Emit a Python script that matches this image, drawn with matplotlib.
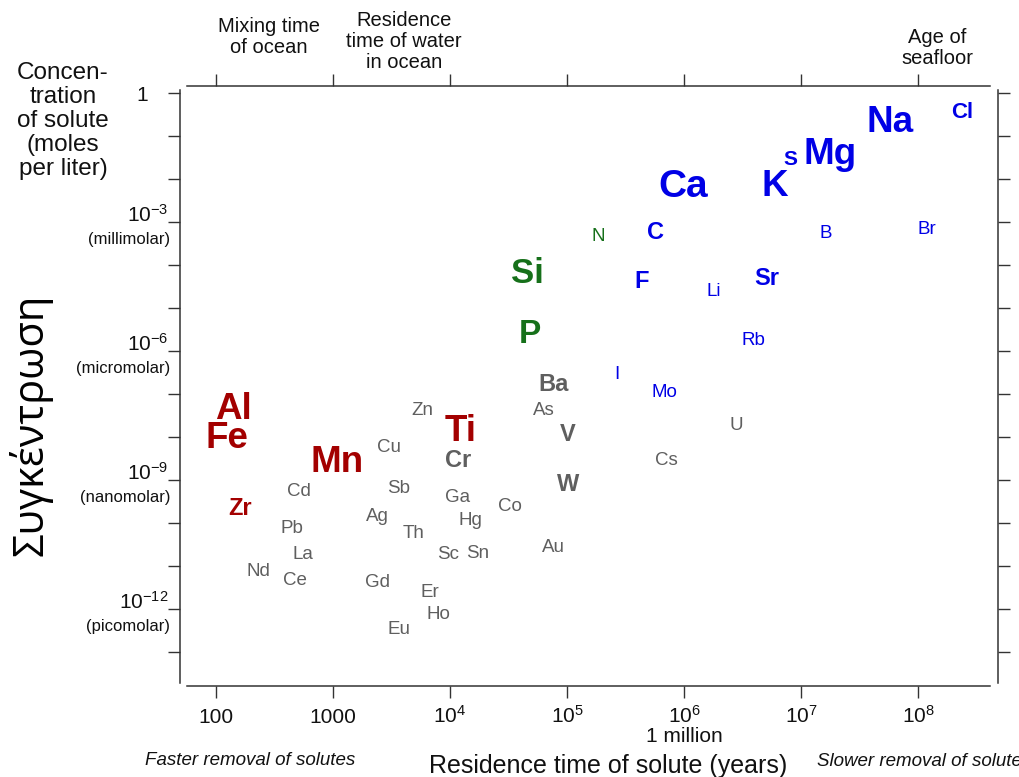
import numpy as np
import matplotlib.pyplot as plt
from matplotlib.ticker import FixedLocator, NullLocator

plt.rcParams['font.family'] = ['Liberation Sans', 'DejaVu Sans']
plt.rcParams['mathtext.fontset'] = 'custom'
plt.rcParams['mathtext.rm'] = 'Liberation Sans'
plt.rcParams['mathtext.it'] = 'Liberation Sans:italic'
plt.rcParams['mathtext.bf'] = 'Liberation Sans:bold'

# elements: residence time (years) and concentration (mol/L)
red_el = ['Al', 'Fe', 'Mn', 'Ti', 'Zr']
red_time = [1.4e2, 1.24e2, 1.08e3, 1.22e4, 1.6e2]
red_conc = [5.5e-8, 1.17e-8, 3.2e-9, 1.7e-8, 2.5e-10]

gray_el = ['Ba', 'As', 'V', 'Cr', 'W', 'Zn', 'Cu', 'Cd', 'Sb', 'Ga', 'Co', 'Hg',
           'Ag', 'Th', 'Pb', 'La', 'Sc', 'Sn', 'Au', 'Nd', 'Ce', 'Gd', 'Er', 'Ho',
           'Eu', 'Cs', 'U']
gray_time = [7.7e4, 6.35e4, 1.02e5, 1.17e4, 1.02e5, 5.77e3, 3.0e3, 5.1e2, 3.66e3,
             1.15e4, 3.26e4, 1.48e4, 2.38e3, 4.9e3, 4.47e2, 5.5e2, 9.6e3, 1.73e4,
             7.7e4, 2.3e2, 4.7e2, 2.38e3, 6.7e3, 7.9e3, 3.66e3, 7.0e5, 2.8e6]
gray_conc = [1.9e-7, 4.7e-8, 1.3e-8, 3.2e-9, 8.9e-10, 4.5e-8, 6.5e-9, 5.9e-10,
             6.9e-10, 4.3e-10, 2.75e-10, 1.3e-10, 1.55e-10, 6.2e-11, 8.1e-11,
             2.1e-11, 2.1e-11, 2.2e-11, 2.95e-11, 8.5e-12, 5.2e-12, 4.7e-12,
             2.75e-12, 8.5e-13, 3.8e-13, 3.2e-9, 2.1e-8]

blue_el = ['Cl', 'Na', 'Mg', 'S', 'K', 'Ca', 'C', 'B', 'Br', 'F', 'Li', 'Sr',
           'Rb', 'I', 'Mo']
blue_time = [2.4e8, 5.8e7, 1.77e7, 8.1e6, 6.0e6, 9.8e5, 5.65e5, 1.64e7, 1.19e8,
             4.3e5, 1.8e6, 5.1e6, 3.9e6, 2.67e5, 6.75e5]
blue_conc = [0.40, 0.26, 0.047, 0.032, 8.5e-3, 8.1e-3, 6.5e-4, 5.9e-4, 7.6e-4,
             4.7e-5, 2.75e-5, 5.5e-5, 2.0e-6, 3.2e-7, 1.23e-7]

green_el = ['N', 'Si', 'P']
green_time = [1.84e5, 4.55e4, 4.83e4]
green_conc = [5.0e-4, 7.6e-5, 2.95e-6]

x_ticks = [1e2, 1e3, 1e4, 1e5, 1e6, 1e7, 1e8]
x_tick_labels = ['100', '1000', '$10^4$', '$10^5$', '$10^6$', '$10^7$', '$10^8$']
y_ticks = [10.0 ** -k for k in range(14)]
y_label_vals = [1, 1e-3, 1e-6, 1e-9, 1e-12]
y_main = ['1', '$10^{-3}$', '$10^{-6}$', '$10^{-9}$', '$10^{-12}$']
y_sub = ['', '(millimolar)', '(micromolar)', '(nanomolar)', '(picomolar)']

top_notes = ['Mixing time\nof ocean', 'Residence\ntime of water\nin ocean',
             'Age of\nseafloor']
top_note_x = [2.84e2, 4.05e3, 1.45e8]

# label styles (size, weight)
big = ['Al', 'Fe', 'Mn', 'Ti', 'K', 'Mg', 'Na']
medium = ['Zr', 'Ba', 'V', 'Cr', 'W', 'C', 'F', 'Sr']
style = {el: (26.5, 'bold') for el in big}
style.update({el: (17, 'bold') for el in medium})
style.update({'Ca': (28, 'bold'), 'Si': (25, 'bold'), 'P': (24, 'bold'),
              'S': (15, 'bold'), 'Cl': (16, 'bold')})

fig = plt.figure(figsize=(10.2, 7.77), dpi=100)
ax = fig.add_axes([187 / 1020, 1 - 686 / 777, 803 / 1020, 600 / 777])
ax.set_xscale('log')
ax.set_yscale('log')
ax.set_xlim(10 ** 1.752, 10 ** 8.615)
ax.set_ylim(10 ** -13.79, 10 ** 0.163)

groups = [(red_el, red_time, red_conc, '#a30000'),
          (gray_el, gray_time, gray_conc, '#5f5f5f'),
          (blue_el, blue_time, blue_conc, '#0000e6'),
          (green_el, green_time, green_conc, '#16701a')]
for els, times, concs, col in groups:
    for el, t, c in zip(els, times, concs):
        sz, wt = style.get(el, (13.5, 'normal'))
        ax.text(t, c, el, color=col, fontsize=sz, fontweight=wt,
                ha='center', va='center_baseline')

# axes frame
ax.xaxis.set_major_locator(FixedLocator(x_ticks))
ax.xaxis.set_minor_locator(NullLocator())
ax.yaxis.set_major_locator(FixedLocator(y_ticks))
ax.yaxis.set_minor_locator(NullLocator())
ax.tick_params(which='major', direction='out', length=8.6, width=1.0,
               color='#333333', top=True, right=True,
               labelbottom=False, labelleft=False)
for s in ax.spines.values():
    s.set_linewidth(1.1)
    s.set_color('#333333')
ax.spines['left'].set_position(('outward', 5))
ax.spines['right'].set_position(('outward', 5.8))
ax.spines['left'].set_bounds(10 ** -13.72, 10 ** 0.07)
ax.spines['right'].set_bounds(10 ** -13.72, 10 ** 0.07)

# x tick labels
for v, lab in zip(x_ticks, x_tick_labels):
    ax.annotate(lab, xy=(v, 0), xycoords=('data', 'axes fraction'),
                xytext=(0, -26.6), textcoords='offset points',
                ha='center', va='baseline', fontsize=15, color='#111111')
ax.annotate('1 million', xy=(1e6, 0), xycoords=('data', 'axes fraction'),
            xytext=(0, -40), textcoords='offset points',
            ha='center', va='baseline', fontsize=15, color='#111111')

# y tick labels
for v, lab, sub in zip(y_label_vals, y_main, y_sub):
    if sub:
        ax.annotate(lab, xy=(0, v), xycoords=('axes fraction', 'data'),
                    xytext=(-13.7, 0.5), textcoords='offset points',
                    ha='right', va='baseline', fontsize=15, color='#111111')
        ax.annotate(sub, xy=(0, v), xycoords=('axes fraction', 'data'),
                    xytext=(-12.2, -7.2), textcoords='offset points',
                    ha='right', va='top', fontsize=12, color='#111111')
    else:
        ax.annotate(lab, xy=(0, v), xycoords=('axes fraction', 'data'),
                    xytext=(-28, 0), textcoords='offset points',
                    ha='right', va='center_baseline', fontsize=15, color='#111111')

# notes along the top
for txt, xv, off in zip(top_notes, top_note_x, [20.9, 10, 13]):
    ax.annotate(txt, xy=(xv, 1), xycoords=('data', 'axes fraction'),
                xytext=(0, off), textcoords='offset points',
                ha='center', va='bottom', fontsize=14.5, linespacing=1.15,
                color='#111111')

fig.text(63 / 1020, 1 - 62 / 777, 'Concen-\ntration\nof solute\n(moles\nper liter)',
         ha='center', va='top', fontsize=17.5, linespacing=1.12, color='#111111')
fig.text(31 / 1020, 1 - 425 / 777, 'Συγκέντρωση', rotation=90,
         ha='center', va='center', fontsize=30, family=['Open Sans', 'DejaVu Sans'])

fig.text(608 / 1020, 1 - 773 / 777, 'Residence time of solute (years)',
         ha='center', va='baseline', fontsize=18, color='#111111')
fig.text(145 / 1020, 1 - 765 / 777, 'Faster removal of solutes',
         ha='left', va='baseline', fontsize=13.5, style='italic', color='#111111')
fig.text(817 / 1020, 1 - 766 / 777, 'Slower removal of solutes',
         ha='left', va='baseline', fontsize=13.5, style='italic', color='#111111')

fig.savefig('out.png', dpi=100)
